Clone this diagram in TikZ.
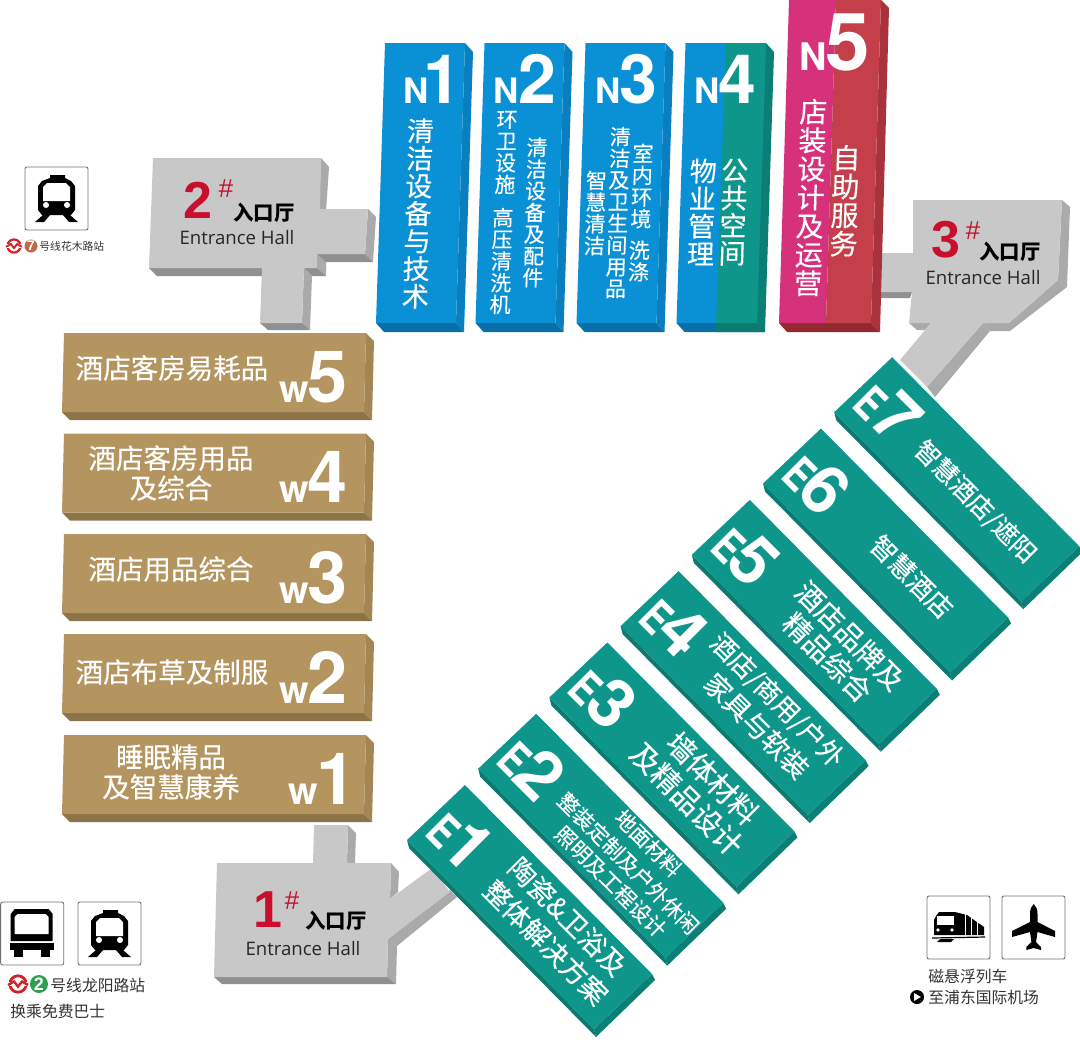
\documentclass[tikz,border=0pt]{standalone}
\usepackage{fontspec}
\setmainfont{Liberation Sans}
\newfontfamily\cjk[FakeBold=0.3]{Noto Sans CJK SC}
\newfontfamily\cjkplain{Noto Sans CJK SC}
\newfontfamily\hallfont{Open Sans}
\newfontfamily\blockfont{TeX Gyre Heros}
\definecolor{nBlue}{HTML}{0a90d4}
\definecolor{nBlueSide}{HTML}{0a7fbf}
\definecolor{nBlueLow}{HTML}{0a6fa8}
\definecolor{eTeal}{HTML}{0f968b}
\definecolor{eTealSide}{HTML}{0b7f76}
\definecolor{eTealLow}{HTML}{0b7a70}
\definecolor{nPink}{HTML}{d6327c}
\definecolor{nRed}{HTML}{c43f4a}
\definecolor{nRedSide}{HTML}{a9333d}
\definecolor{nRedLow}{HTML}{93282f}
\definecolor{wTan}{HTML}{b49560}
\definecolor{wTanSide}{HTML}{a38654}
\definecolor{wTanLow}{HTML}{8d7348}
\definecolor{hallFace}{HTML}{c8c8c9}
\definecolor{hallSide}{HTML}{a9aaab}
\definecolor{hallLow}{HTML}{8f9092}
\definecolor{hallRed}{HTML}{c8102e}
\definecolor{metroRed}{HTML}{d3232a}
\definecolor{lineBrown}{HTML}{c06a4c}
\definecolor{lineGreen}{HTML}{2f9e4f}
\newcommand{\blocklabel}[5][-0.5pt]{{\blockfont\bfseries\fontsize{#4}{#4}\selectfont #2\kern#1\fontsize{#5}{#5}\selectfont #3}}
\newcommand{\elabel}[1]{{\blockfont\bfseries\fontsize{23}{23}\selectfont\scalebox{0.78}[1]{E}\kern-1pt\fontsize{34}{34}\selectfont #1}}
\newcommand{\iconbox}[2]{\draw[iconframe] (#1,#2) rectangle ++(63,63);}
\newcommand{\metroicon}[2]{%
  \begin{scope}[shift={(#1,#2)}]
    \iconbox{0}{0}
    \fill[black] (25,11) -- (25,8) -- (40,8) -- (40,11) -- (46,14) -- (50,19) -- (50,43) -- (46,48)
      -- (17,48) -- (13,43) -- (13,19) -- (17,14) -- cycle;
    \fill[white] (18,20) -- (22,16) -- (41,16) -- (45,20) -- (45,34) -- (18,34) -- cycle;
    \fill[white] (21,38) circle (3) (42,38) circle (3);
    \fill[black] (10,55) -- (18,48) -- (25,48) -- (19,55) -- cycle;
    \fill[black] (53,55) -- (45,48) -- (38,48) -- (44,55) -- cycle;
  \end{scope}}
\newcommand{\metrologo}[3]{%
  \begin{scope}[shift={(#1,#2)}]
    \draw[metroRed, line width=0.28*#3*0.5pt] (0,0) circle ({0.82*#3});
    \fill[white] ({-1.1*#3},{-0.2*#3}) rectangle ({1.1*#3},{0.2*#3});
    \draw[metroRed, line width=0.24*#3*0.5pt] ({-1*#3},{0.1*#3}) -- ({-0.4*#3},{-0.25*#3})
      -- (0,{0.25*#3}) -- ({0.4*#3},{-0.25*#3}) -- ({1*#3},{0.1*#3});
  \end{scope}}
\tikzset{
  iconframe/.style={draw=black!55, line width=0.45pt, fill=white, rounded corners=1pt},
  slabtext/.style={text=white, inner sep=0, align=center},
  vsmall/.style={slabtext, xslant=0.032, font=\cjk\fontsize{10.5}{10.85}\selectfont},
  vbig/.style={slabtext, xslant=0.032, font=\cjk\fontsize{13.5}{13.8}\selectfont},
  vbold/.style={slabtext, xslant=0.032, font=\cjk\fontsize{14}{14.3}\selectfont},
  wtext/.style={slabtext, font=\cjk\fontsize{13.75}{15}\selectfont},
  etext/.style={slabtext, rotate=-45, font=\cjk\fontsize{#1}{#1}\selectfont},
  hallnum/.style={text=hallRed, inner sep=0, anchor=base west, font=\bfseries\fontsize{26}{26}\selectfont},
  hallmark/.style={text=hallRed, inner sep=0, anchor=base west, font=\itshape\fontsize{13}{13}\selectfont},
  hallcn/.style={inner sep=0, font=\cjkplain\bfseries\fontsize{10.2}{10.2}\selectfont},
  hallen/.style={inner sep=0, text=black!85, font=\hallfont\fontsize{9.3}{9.3}\selectfont},
  stationtext/.style={inner sep=0, anchor=west, text=black!80, font=\cjkplain\fontsize{#1}{#1}\selectfont},
  linemark/.style={circle, inner sep=0, text=white, font=\bfseries\fontsize{#1}{#1}\selectfont}
}

\begin{document}
\begin{tikzpicture}[x=0.5pt, y=-0.5pt]
    \useasboundingbox (0,0) rectangle (1080,1039);
    % Entrance hall 2
    \fill[hallSide] (321,158) -- (329,167) -- (326,212) -- (319,212) -- cycle;
    \fill[hallSide] (368,209) -- (376,217) -- (373,262) -- (365,254) -- cycle;
    \fill[hallSide] (317,254) -- (326,254) -- (326,276) -- (317,268) -- cycle;
    \fill[hallLow] (317,254) -- (365,254) -- (373,262) -- (326,262) -- cycle;
    \fill[hallLow] (304,268) -- (317,268) -- (326,276) -- (312,276) -- cycle;
    \fill[hallLow] (149,268) -- (157,276) -- (262,276) -- (262,268) -- cycle;
    \fill[hallSide] (304,268) -- (312,276) -- (310,330) -- (302,323) -- cycle;
    \fill[hallLow] (260,323) -- (302,323) -- (310,330) -- (268,330) -- cycle;
    \fill[hallFace] (153,158) -- (321,158) -- (320,209) -- (368,209) -- (365,254) -- (317,254)
      -- (317,268) -- (304,268) -- (302,323) -- (260,323) -- (262,268) -- (149,268) -- cycle;
    % Entrance hall 1
    \fill[hallSide] (348,825) -- (356,833) -- (355,863) -- (347,863) -- cycle;
    \fill[hallSide] (391,863) -- (399,872) -- (398,892) -- (390,899) -- cycle;
    \fill[hallSide] (388,939) -- (397,946) -- (457,897) -- (450,890) -- cycle;
    \fill[hallSide] (388,939) -- (397,946) -- (396,984) -- (387,977) -- cycle;
    \fill[hallLow] (214,977) -- (222,984) -- (396,984) -- (387,977) -- cycle;
    \fill[hallFace] (314,825) -- (348,825) -- (347,863) -- (391,863) -- (390,899) -- (432,868)
      -- (450,892) -- (388,939) -- (387,977) -- (214,977) -- (217,863) -- (313,863) -- cycle;
    % Entrance hall 3
    \fill[hallSide] (1062,200) -- (1070,207) -- (1067,287) -- (1058,280) -- cycle;
    \fill[hallSide] (1058,280) -- (1067,287) -- (1010,331) -- (1009,323) -- cycle;
    \fill[hallSide] (983,323) -- (1010,323) -- (1010,331) -- (990,331) -- cycle;
    \fill[hallSide] (983,323) -- (990,331) -- (935,397) -- (927,387) -- cycle;
    \fill[hallLow] (879,292) -- (879,298) -- (910,298) -- (912,292) -- cycle;
    \fill[hallSide] (909,323) -- (917,330) -- (925,330) -- (931,323) -- cycle;
    \fill[hallFace] (913,200) -- (1062,200) -- (1058,280) -- (1009,323) -- (983,323) -- (927,387)
      -- (900,360) -- (931,323) -- (909,323) -- (912,292) -- (879,292) -- (881,253) -- (913,253) -- cycle;
    % Hall labels
    \node[hallnum] (hallnumb) at (183,218) {2};
    \node[hallmark] (hallmarkb) at (218,197) {\#};
    \node[hallcn] (hallcnb) at (264,213) {入口厅};
    \node[hallen] (hallenb) at (237,238) {Entrance Hall};
    \node[hallnum] (hallnuma) at (253,927) {1};
    \node[hallmark] (hallmarka) at (284,909) {\#};
    \node[hallcn] (hallcna) at (336,921) {入口厅};
    \node[hallen] (hallena) at (303,949) {Entrance Hall};
    \node[hallnum] (hallnumc) at (931,257) {3};
    \node[hallmark] (hallmarkc) at (965,239) {\#};
    \node[hallcn] (hallcnc) at (1010,252) {入口厅};
    \node[hallen] (hallenc) at (983,278) {Entrance Hall};
    % W row
    \foreach \dy/\n/\ex in {0/5/348, 100.5/4/348, 201/3/348, 301/2/348, 402/1/357}
    {
      \begin{scope}[shift={(0,\dy)}]
        \fill[wTanSide] (366,333) -- (374,341) -- (372,420) -- (364,412) -- cycle;
        \fill[wTanLow] (62,412) -- (364,412) -- (372,420) -- (70,420) -- cycle;
        \fill[wTan] (64,333) -- (366,333) -- (364,412) -- (62,412) -- cycle;
        \node[slabtext, anchor=base east] (w\n) at (\ex,402) {\blocklabel{w}{\n}{19}{36}};
      \end{scope}
    }
    \node[wtext] (wtxtfive) at (172,368) {酒店客房易耗品};
    \node[wtext] (wtxtfour) at (171,473) {酒店客房用品\\及综合};
    \node[wtext] (wtxtthree) at (171,569) {酒店用品综合};
    \node[wtext] (wtxttwo) at (172,672) {酒店布草及制服};
    \node[wtext] (wtxtone) at (171,772) {睡眠精品\\及智慧康养};
    % N row
    \foreach \dx in {0, 99.5, 200.5, 300.5}
    {
      \begin{scope}[shift={(\dx,0)}]
        \fill[nBlueSide] (465,43) -- (473,52) -- (464,332) -- (456,323) -- cycle;
        \fill[nBlueLow] (376,323) -- (456,323) -- (464,332) -- (384,332) -- cycle;
        \fill[nBlue] (385,43) -- (465,43) -- (456,323) -- (376,323) -- cycle;
      \end{scope}
    }
    % N4 green half
    \fill[eTealSide] (766,43) -- (774,52) -- (765,332) -- (757,323) -- cycle;
    \fill[eTealLow] (716,323) -- (757,323) -- (765,332) -- (716,332) -- cycle;
    \fill[eTeal] (726,43) -- (766,43) -- (757,323) -- (716,323) -- cycle;
    % N5
    \fill[nRedSide] (881,0) -- (889,8) -- (880,332) -- (871,323) -- cycle;
    \fill[nRedLow] (779,323) -- (871,323) -- (880,332) -- (787,332) -- cycle;
    \fill[nPink] (789,0) -- (836,0) -- (826,323) -- (779,323) -- cycle;
    \fill[nRed] (836,0) -- (881,0) -- (871,323) -- (826,323) -- cycle;
    % N labels
    \foreach \n/\sx/\k in {1/403/-2.5pt, 2/493.5/-0.5pt, 3/595/-0.5pt, 4/694/-0.5pt}
      \node[slabtext, anchor=base west] (n\n) at (\sx,103) {\blocklabel[\k]{N}{\n}{17.5}{34}};
    \node[slabtext, anchor=base west] (n5) at (799,70) {\blocklabel{N}{5}{19}{40}};
    \node[vbig] (ntxtone) at (418,213.5) {清\\洁\\设\\备\\与\\技\\术};
    \node[vsmall] (ntxttwoa) at (506,152.5) {环\\卫\\设\\施};
    \node[vsmall] (ntxttwob) at (501.5,261) {高\\压\\清\\洗\\机};
    \node[vsmall] (ntxttwoc) at (535,212.5) {清\\洁\\设\\备\\及\\配\\件};
    \node[vsmall] (ntxtthreea) at (595.5,213) {智\\慧\\清\\洁};
    \node[vsmall] (ntxtthreeb) at (618,212.5) {清\\洁\\及\\卫\\生\\间\\用\\品};
    \node[vsmall] (ntxtthreec) at (642,186) {室\\内\\环\\境};
    \node[vsmall] (ntxtthreed) at (639,261) {洗\\涤};
    \node[vbig] (ntxtfoura) at (702,212) {物\\业\\管\\理};
    \node[vbig] (ntxtfourb) at (733.5,212) {公\\共\\空\\间};
    \node[vbold] (ntxtfivea) at (810.7,197.5) {店\\装\\设\\计\\及\\运\\营};
    \node[vbold] (ntxtfiveb) at (845,200.8) {自\\助\\服\\务};
    % E row
    \foreach \i/\n in {0/1, 1/2, 2/3, 3/4, 4/5, 5/6, 6/7}
    {
      \begin{scope}[shift={({\i*71.2},{-\i*71.3})}]
        \fill[eTealLow] (407,840) -- (409,848) -- (596,1037) -- (594,1029) -- cycle;
        \fill[eTealSide] (594,1029) -- (596,1037) -- (655,980) -- (652,974) -- cycle;
        \fill[eTeal] (465,785) -- (652,974) -- (594,1029) -- (407,840) -- cycle;
        \node[slabtext, rotate=-45, anchor=base west] (e\n) at (423,834) {\elabel{\n}};
      \end{scope}
    }
    \node[etext=13.5] (etxtonea) at (567.5,916.7) {陶瓷\&卫浴及};
    \node[etext=13.5] (etxtoneb) at (545.8,942.5) {整体解决方案};
    \node[etext=10.5] (etxttwoa) at (648.3,843.3) {地面材料};
    \node[etext=10.5] (etxttwob) at (628.3,863.3) {整装定制及户外休闲};
    \node[etext=10.5] (etxttwoc) at (610.8,881.7) {照明及工程设计};
    \node[etext=14.5] (etxtthreea) at (712.5,778.3) {墙体材料};
    \node[etext=14.5] (etxtthreeb) at (686.7,799.3) {及精品设计};
    \node[etext=13] (etxtfoura) at (776.7,700.7) {酒店/商用/户外};
    \node[etext=13.5] (etxtfourb) at (756.7,725.7) {家具与软装};
    \node[etext=14] (etxtfivea) at (850,635.7) {酒店品牌及};
    \node[etext=14] (etxtfiveb) at (827.5,657.3) {精品综合};
    \node[etext=13] (etxtsix) at (911.7,576.7) {智慧酒店};
    \node[etext=12.5] (etxtseven) at (975,502) {智慧酒店/遮阳};
    % Station at hall 2
    \metroicon{25}{167}
    \metrologo{14}{246}{8}
    \node[linemark=7, fill=lineBrown, minimum size=6.5pt] (linesev) at (31,246) {7};
    \node[stationtext=5.4] (stationb) at (39,246) {号线花木路站};
    % Station at hall 1
    \iconbox{0.7}{902}
    \begin{scope}[shift={(0.7,902)}]
      \fill[black] (10,12) -- (14,7) -- (48,7) -- (52,12) -- (52,39) -- (10,39) -- cycle;
      \fill[white] (14,15) -- (17,12) -- (45,12) -- (48,15) -- (48,32) -- (14,32) -- cycle;
      \fill[black] (9,41) rectangle (53,48);
      \fill[black] (13,48) rectangle (22,55);
      \fill[black] (40,48) rectangle (49,55);
    \end{scope}
    \metroicon{78}{902}
    \metrologo{18}{984}{10}
    \node[linemark=9, fill=lineGreen, minimum size=9pt] (linetwo) at (39,984) {2};
    \node[stationtext=7.9] (stationa) at (50,985) {号线龙阳路站};
    \node[stationtext=7.9] (busnote) at (10,1011) {换乘免费巴士};
    % Maglev and airport
    \iconbox{927}{896}
    \begin{scope}[shift={(927,896)}]
      \fill[black] (9,20) -- (12,16) -- (28,16) -- (40,19) -- (57,31) -- (57,39) -- (7,39) -- (7,24) -- cycle;
      \fill[white] (10,20) -- (27,20) -- (27,29) -- (10,29) -- cycle;
      \draw[white, line width=0.5pt] (38,18) -- (38,39) (44,22) -- (44,39) (50,26) -- (50,39);
      \fill[white] (11,34) circle (1.8) (25,34) circle (1.8);
      \draw[black, line width=0.6pt] (5,42) -- (58,41);
      \fill[black] (13,43) -- (27,43) -- (24,46) -- (10,46) -- cycle;
    \end{scope}
    \iconbox{1002}{896}
    \begin{scope}[shift={(1002,896)}]
      \fill[black] (31.7,8) .. controls (34,10) and (35.5,13) .. (35.5,18) -- (35.5,26) -- (53,35) -- (53,41)
        -- (35.5,36) -- (34,46) -- (39,51) -- (39,54) -- (31.7,52) -- (24.4,54) -- (24.4,51) -- (29.4,46)
        -- (28,36) -- (10,41) -- (10,35) -- (28,26) -- (28,18) .. controls (28,13) and (29.4,10) .. (31.7,8) -- cycle;
    \end{scope}
    \node[stationtext=7.9] (maglev) at (928,976) {磁悬浮列车};
    \node[circle, fill=black, minimum size=7pt, inner sep=0] (playmark) at (917,997) {};
    \fill[white] (914,993) -- (914,1001) -- (921,997) -- cycle;
    \node[stationtext=7.9] (airport) at (928,997) {至浦东国际机场};
\end{tikzpicture}
\end{document}
